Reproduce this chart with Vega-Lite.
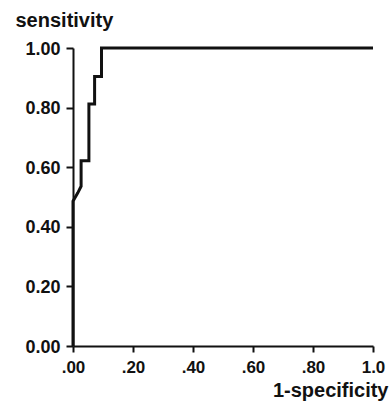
{
  "$schema": "https://vega.github.io/schema/vega-lite/v6.json",
  "autosize": "none",
  "width": 300,
  "height": 298,
  "padding": {"left": 73, "top": 48, "right": 17, "bottom": 64},
  "background": "white",
  "config": {
    "view": {"stroke": null},
    "font": "Liberation Sans"
  },
  "data": {
    "values": [
      {"i": 0, "fpr": 0, "tpr": 0},
      {"i": 1, "fpr": 0, "tpr": 0.486},
      {"i": 2, "fpr": 0.016, "tpr": 0.514},
      {"i": 3, "fpr": 0.027, "tpr": 0.536},
      {"i": 4, "fpr": 0.027, "tpr": 0.622},
      {"i": 5, "fpr": 0.053, "tpr": 0.622},
      {"i": 6, "fpr": 0.053, "tpr": 0.812},
      {"i": 7, "fpr": 0.072, "tpr": 0.812},
      {"i": 8, "fpr": 0.072, "tpr": 0.904},
      {"i": 9, "fpr": 0.095, "tpr": 0.904},
      {"i": 10, "fpr": 0.095, "tpr": 1},
      {"i": 11, "fpr": 1, "tpr": 1}
    ]
  },
  "mark": {"type": "line", "color": "#111", "strokeWidth": 3, "strokeJoin": "miter", "clip": false},
  "encoding": {
    "order": {"field": "i", "type": "quantitative"},
    "x": {
      "field": "fpr",
      "type": "quantitative",
      "scale": {"domain": [0, 1], "nice": false, "zero": false},
      "axis": {
        "values": [0, 0.2, 0.4, 0.6, 0.8, 1],
        "labelExpr": "datum.value == 1 ? '1.0' : replace(format(datum.value, '.2f'), '0.', '.')",
        "grid": false,
        "domainColor": "#111",
        "domainWidth": 2,
        "tickColor": "#111",
        "tickWidth": 2,
        "tickSize": 6,
        "labelPadding": 7,
        "labelFont": "Liberation Sans",
        "labelFontWeight": "bold",
        "labelFontSize": 17,
        "labelColor": "#111",
        "labelFlush": false,
        "labelOverlap": false,
        "title": "1-specificity",
        "titleFont": "Liberation Sans",
        "titleFontWeight": "bold",
        "titleFontSize": 20,
        "titleColor": "#111",
        "titleAlign": "right",
        "titleAnchor": null,
        "titleBaseline": "alphabetic",
        "titleX": 315,
        "titleY": 50
      }
    },
    "y": {
      "field": "tpr",
      "type": "quantitative",
      "scale": {"domain": [0, 1], "nice": false, "zero": false},
      "axis": {
        "values": [0, 0.2, 0.4, 0.6, 0.8, 1],
        "format": ".2f",
        "grid": false,
        "domainColor": "#111",
        "domainWidth": 2,
        "tickColor": "#111",
        "tickWidth": 2,
        "tickSize": 7,
        "labelPadding": 6,
        "labelOffset": 1,
        "labelFont": "Liberation Sans",
        "labelFontWeight": "bold",
        "labelFontSize": 18,
        "labelColor": "#111",
        "labelFlush": false,
        "labelOverlap": false,
        "title": "sensitivity",
        "titleFont": "Liberation Sans",
        "titleFontWeight": "bold",
        "titleFontSize": 20,
        "titleColor": "#111",
        "titleAngle": 0,
        "titleAlign": "left",
        "titleAnchor": null,
        "titleBaseline": "alphabetic",
        "titleX": -58,
        "titleY": -22
      }
    }
  }
}
